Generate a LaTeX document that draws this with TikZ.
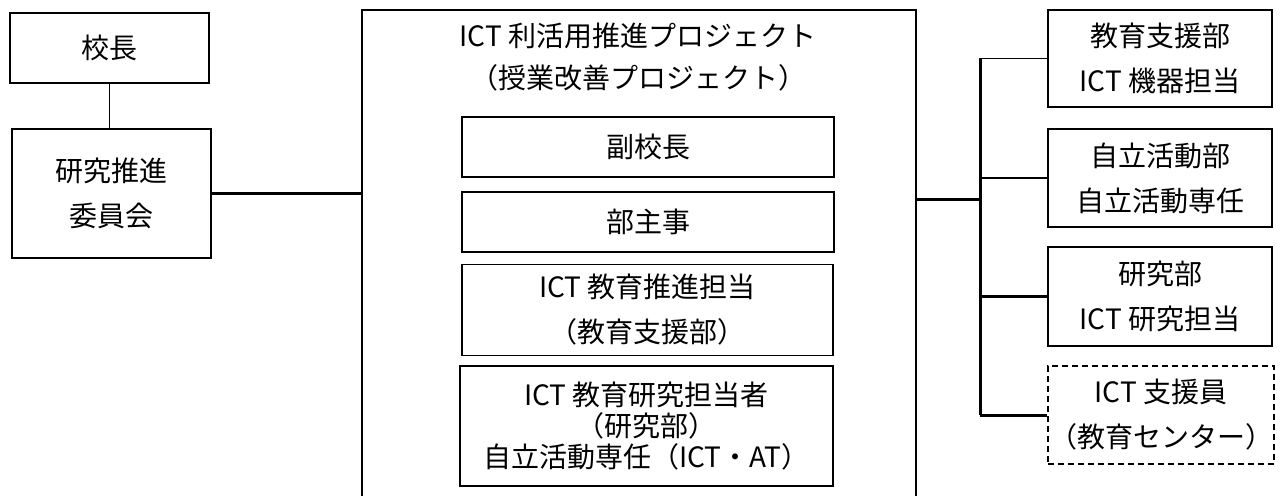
\documentclass[tikz,border=0pt]{standalone}
\usepackage{fontspec}
\setmainfont{Noto Sans CJK JP}
\begin{document}
\begin{tikzpicture}[x=1pt,y=-1pt,
  box/.style={draw, line width=1.8pt, inner sep=0pt, align=center,
    font=\fontsize{28}{45}\selectfont},
  dbox/.style={box, line width=1.5pt, dash pattern=on 6pt off 4pt},
  plain/.style={inner sep=0pt, font=\fontsize{28}{34}\selectfont},
  conthin/.style={line width=1.6pt},
  conthick/.style={line width=3pt}]
\useasboundingbox (0,0) rectangle (1281,495);
\clip (0,0) rectangle (1281,495);
% left column
\node[box, minimum width=199pt, minimum height=70pt] (kocho) at (109.5,48) {校長};
\node[box, minimum width=199pt, minimum height=129pt] (iinkai) at (111.5,193.5) {研究推進\\委員会};
% main project box
\node[draw, line width=1.8pt, inner sep=0pt, minimum width=554pt, minimum height=500pt] (main) at (639,260) {};
\node[plain] (t1) at (638,36) {ICT 利活用推進プロジェクト};
\node[plain] (t2) at (638,78) {（授業改善プロジェクト）};
\node[box, minimum width=372pt, minimum height=60pt] (fuku) at (648,147) {副校長};
\node[box, minimum width=372pt, minimum height=60pt] (bushuji) at (648,222) {部主事};
\node[box, minimum width=371pt, minimum height=91pt] (suishin) at (647.5,310) {ICT 教育推進担当\\（教育支援部）};
\node[box, minimum width=373pt, minimum height=120pt, font=\fontsize{28}{31}\selectfont] (kenkyu) at (646.5,426) {ICT 教育研究担当者\\（研究部）\\自立活動専任（ICT・AT）};
% right column
\node[box, minimum width=224pt, minimum height=97pt] (r1) at (1160,58.5) {教育支援部\\ICT 機器担当};
\node[box, minimum width=224pt, minimum height=98pt] (r2) at (1160,178) {自立活動部\\自立活動専任};
\node[box, minimum width=224pt, minimum height=99pt] (r3) at (1160,296.5) {研究部\\ICT 研究担当};
\node[dbox, minimum width=226pt, minimum height=98pt] (r4) at (1161,415) {ICT 支援員\\（教育センター）};
% connectors
\draw[conthin] (kocho.south) -- (kocho.south |- iinkai.north);
\draw[conthick] (iinkai.east) -- (iinkai.east -| main.west);
\coordinate (bus) at (980,199);
\draw[conthick] (main.east |- bus) -- (bus);
\draw[conthick] (bus |- r1.west) -- (bus |- r4.west);
\draw[conthin] (bus |- r1.west) -- (r1.west);
\draw[conthin] (bus |- r2.west) -- (r2.west);
\draw[conthick] (bus |- r3.west) -- (r3.west);
\draw[conthick] (bus |- r4.west) -- (r4.west);
\end{tikzpicture}
\end{document}
